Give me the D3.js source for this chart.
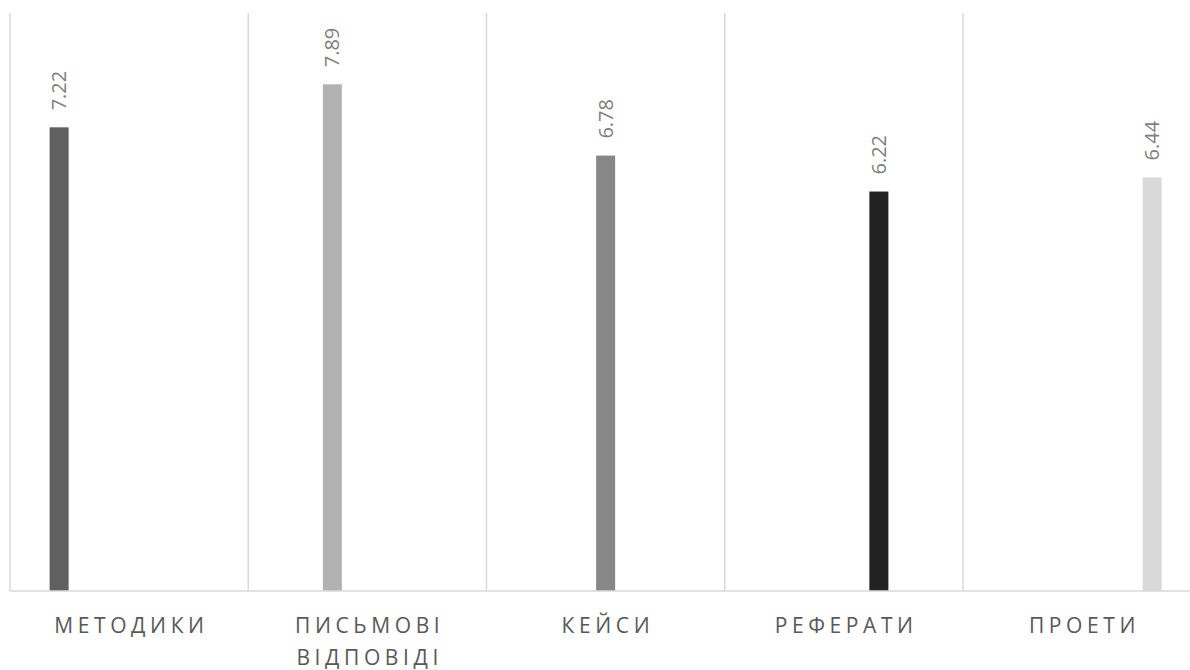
<!DOCTYPE html>
<html>
<head>
<meta charset="utf-8">
<script src="https://cdn.jsdelivr.net/npm/d3@7"></script>
<style>
  body { margin: 0; background: #fff; }
  svg { display: block; font-family: "Open Sans", "Noto Sans", sans-serif; }
</style>
</head>
<body>
<div id="app"></div>
<script>
const categories = ['МЕТОДИКИ', 'ПИСЬМОВІ ВІДПОВІДІ', 'КЕЙСИ', 'РЕФЕРАТИ', 'ПРОЕТИ'];
// one series per category, each series has a value only in its own category
const values = [7.22, 7.89, 6.78, 6.22, 6.44];
const colors = ['#606060', '#b2b2b2', '#878787', '#222222', '#d9d9d9'];
const yMax = 9;

function render() {
  const width = 1190;
  const height = 670;
  const margin = { left: 10, top: 13, bottom: 79 };
  const bandW = 238.25;
  const baseline = height - margin.bottom;

  const svg = d3.select('#app').append('svg').attr('width', width).attr('height', height);

  const x0 = d3.scaleBand(categories, [margin.left, margin.left + bandW * categories.length]);
  const x1 = d3.scaleBand(categories, [0, x0.bandwidth()]).paddingInner(0.457).paddingOuter(1.132);
  const y = d3.scaleLinear([0, yMax], [baseline, margin.top]);

  // vertical category separators
  const edges = categories.map(c => x0(c)).concat([x0.range()[1]]);
  svg.append('g').selectAll('line').data(edges).join('line')
    .attr('x1', d => d).attr('x2', d => d)
    .attr('y1', y(yMax)).attr('y2', baseline)
    .attr('stroke', '#d9d9d9').attr('stroke-width', 1.5);

  // bars
  const bars = categories.map((c, i) => ({ cat: c, value: values[i], color: colors[i] }));
  svg.append('g').selectAll('rect').data(bars).join('rect')
    .attr('x', d => x0(d.cat) + x1(d.cat))
    .attr('y', d => y(d.value))
    .attr('width', x1.bandwidth())
    .attr('height', d => baseline - y(d.value))
    .attr('fill', d => d.color);

  // value labels (rotated)
  svg.append('g').selectAll('text').data(bars).join('text')
    .attr('transform', d => `translate(${x0(d.cat) + x1(d.cat) + x1.bandwidth() / 2 + 7}, ${y(d.value) - 17}) rotate(-90)`)
    .attr('font-size', 20)
    .attr('fill', '#7f7f7f')
    .text(d => d3.format('.2f')(d.value));

  // baseline
  svg.append('line')
    .attr('x1', margin.left).attr('x2', x0.range()[1])
    .attr('y1', baseline).attr('y2', baseline)
    .attr('stroke', '#d9d9d9').attr('stroke-width', 1.5);

  // category labels
  const spacing = 4.6;
  const labels = svg.append('g').selectAll('text').data(categories).join('text')
    .attr('x', d => x0(d) + x0.bandwidth() / 2 + spacing / 2)
    .attr('y', baseline + 42)
    .attr('text-anchor', 'middle')
    .attr('font-size', 21)
    .attr('letter-spacing', spacing)
    .attr('fill', '#595959');
  labels.each(function (d) {
    const words = d.split(' ');
    const t = d3.select(this);
    words.forEach((w, i) => {
      t.append('tspan')
        .attr('x', x0(d) + x0.bandwidth() / 2 + spacing / 2)
        .attr('dy', i === 0 ? 0 : 32)
        .text(w);
    });
  });
}

render();
</script>
</body>
</html>
